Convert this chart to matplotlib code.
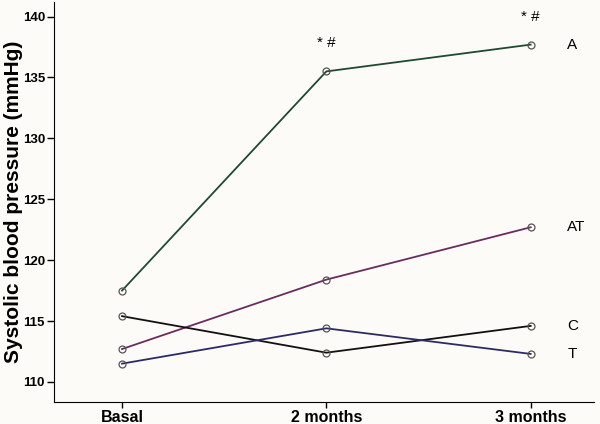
import numpy as np
import matplotlib.pyplot as plt

plt.rcParams["font.family"] = ["Liberation Sans", "DejaVu Sans"]

times = ["Basal", "2 months", "3 months"]
groups = ["A", "AT", "C", "T"]
sbp_A = [117.5, 135.5, 137.7]
sbp_AT = [112.7, 118.4, 122.7]
sbp_C = [115.4, 112.4, 114.6]
sbp_T = [111.5, 114.4, 112.3]
colors = ["#1e4a30", "#6a2c5e", "#111111", "#2b2b66"]
signif = ["", "* #", "* #"]
yticks = [110, 115, 120, 125, 130, 135, 140]

bg = "#fdfbf8"
fig = plt.figure(figsize=(6, 4.24), dpi=100, facecolor=bg)
ax = fig.add_axes([54 / 600, 22 / 424, 540 / 600, 400 / 424])
ax.set_facecolor(bg)

x = np.arange(len(times))
series = [sbp_A, sbp_AT, sbp_C, sbp_T]
for vals, c, g in zip(series, colors, groups):
    ax.plot(x, vals, color=c, lw=1.3, marker="o", ms=5,
            mfc="none", mec="#555555", mew=0.9)
    ax.text(2.18, vals[-1], g, fontsize=11, va="center", ha="left")

for i, s in enumerate(signif):
    if s:
        ax.text(x[i], sbp_A[i] + 2.3, s, fontsize=11, ha="center", va="center")

ax.set_xlim(-0.333, 2.31)
ax.set_ylim(108.35, 141.2)
ax.set_xticks(x)
ax.set_xticklabels(times, fontweight="bold", fontsize=11.5)
ax.set_yticks(yticks)
ax.set_yticklabels([str(v) for v in yticks], fontsize=9.5, fontweight="bold")
ax.set_ylabel("Systolic blood pressure (mmHg)", fontsize=15, fontweight="bold")
ax.yaxis.set_label_coords(-0.057, 0.5)
ax.spines["top"].set_visible(False)
ax.spines["right"].set_visible(False)
ax.tick_params(axis="y", length=5, width=1, pad=1.5)
ax.tick_params(axis="x", length=4, width=1, pad=2)

fig.savefig("out.png", dpi=100, facecolor=bg)
